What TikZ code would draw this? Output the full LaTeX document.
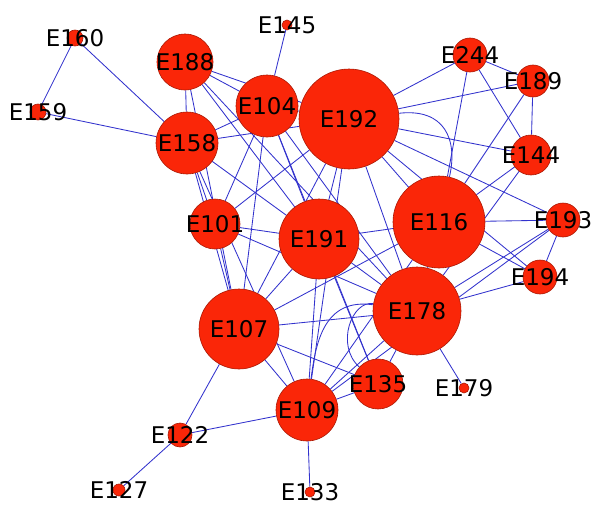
\documentclass[tikz,border=0pt]{standalone}
\usepackage{fontspec}
\setmainfont{DejaVu Sans}
\begin{document}
\definecolor{nodefill}{RGB}{250,38,8}
\definecolor{nodeedge}{RGB}{170,25,5}
\definecolor{edgeblue}{RGB}{50,50,205}
\pgfdeclarelayer{edges}
\pgfsetlayers{edges,main}
\begin{tikzpicture}[x=1pt,y=-1pt,
  vtx/.style={circle,fill=nodefill,draw=nodeedge,line width=0.6pt,inner sep=0pt,minimum size=#1},
  lbl/.style={inner sep=0pt,font=\fontsize{23}{23}\selectfont,text=black},
  link/.style={draw=edgeblue,line width=0.85pt}]
\useasboundingbox (0,0) rectangle (595,506);

% vertices: name, position, diameter
\node[vtx=16pt]  (E160) at (75,38)   {};
\node[vtx=16pt]  (E159) at (38,112)  {};
\node[vtx=10pt]  (E145) at (287,25)  {};
\node[vtx=56pt]  (E188) at (185,62)  {};
\node[vtx=62pt]  (E158) at (187,143) {};
\node[vtx=62pt]  (E104) at (267,106) {};
\node[vtx=50pt]  (E101) at (215,224) {};
\node[vtx=100pt] (E192) at (349,119) {};
\node[vtx=34pt]  (E244) at (470,55)  {};
\node[vtx=32pt]  (E189) at (533,81)  {};
\node[vtx=40pt]  (E144) at (531,155) {};
\node[vtx=92pt]  (E116) at (439,222) {};
\node[vtx=34pt]  (E193) at (563,220) {};
\node[vtx=34pt]  (E194) at (540,277) {};
\node[vtx=80pt]  (E191) at (319,239) {};
\node[vtx=88pt]  (E178) at (417,311) {};
\node[vtx=80pt]  (E107) at (239,329) {};
\node[vtx=62pt]  (E109) at (307,410) {};
\node[vtx=50pt]  (E135) at (378,384) {};
\node[vtx=10pt]  (E179) at (464,388) {};
\node[vtx=10pt]  (E133) at (310,492) {};
\node[vtx=24pt]  (E122) at (180,435) {};
\node[vtx=12pt]  (E127) at (119,490) {};

% labels centred on their vertices
\foreach \v in {E160,E159,E145,E188,E158,E104,E101,E192,E244,E189,E144,E116,
                E193,E194,E191,E178,E107,E109,E135,E179,E133,E122,E127}
  \node[lbl] (l\v) at (\v) {\v};

% connectors
\begin{pgfonlayer}{edges}
\foreach \a/\b in {E160/E159,E160/E158,E159/E158,E145/E104,
  E188/E104,E188/E192,E188/E158,E188/E107,E188/E191,E188/E178,
  E158/E104,E158/E192,E158/E191,E158/E107,E158/E101,E158/E109,
  E104/E192,E104/E101,E104/E107,E104/E191,E104/E178,E104/E135,
  E101/E191,E101/E107,E101/E192,E101/E178,
  E192/E244,E192/E189,E192/E144,E192/E193,E192/E194,E192/E116,
  E192/E178,E192/E191,E192/E107,E192/E109,
  E244/E189,E244/E144,E244/E116,E189/E144,E189/E116,
  E144/E116,E144/E178,E116/E193,E116/E194,E116/E191,E116/E178,
  E116/E107,E116/E109,E193/E194,E193/E178,E193/E109,E194/E178,
  E191/E107,E191/E109,E191/E135,E191/E178,
  E178/E107,E178/E135,E178/E109,E178/E179,
  E107/E135,E107/E109,E107/E122,
  E109/E135,E109/E122,E109/E133,E122/E127}
  \draw[link] (\a) -- (\b);
% curved connectors
\draw[link] (E192) .. controls (445,108) and (458,140) .. (E116);
\draw[link] (E178) .. controls (325,298) and (316,340) .. (E109);
\draw[link] (E178) .. controls (352,300) and (335,345) .. (E135);
\end{pgfonlayer}
\end{tikzpicture}
\end{document}
